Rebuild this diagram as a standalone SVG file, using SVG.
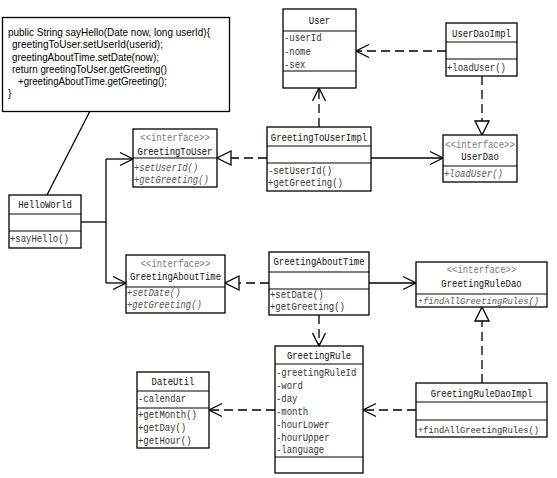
<svg xmlns="http://www.w3.org/2000/svg" width="557" height="478" viewBox="0 0 557 478">
<defs>
<style>
.box{fill:#fff;stroke:#000;stroke-width:1.3}
.sep{stroke:#000;stroke-width:1.2}
.t{font-family:"Liberation Mono","DejaVu Sans Mono",monospace;font-size:11px;fill:#111}
.sm{font-size:9.3px}
.c{text-anchor:middle}
.m{fill:#333}
.st{fill:#777}
.it{font-style:italic;fill:#555}
.n{font-family:"Liberation Sans",Arial,sans-serif;font-size:10.5px;fill:#000}
.ln{fill:none;stroke:#000;stroke-width:1.3}
.ds{stroke-dasharray:9,5}
.oa{marker-end:url(#open)}
.ta{marker-end:url(#tri)}
</style>
<marker id="open" markerUnits="userSpaceOnUse" markerWidth="16" markerHeight="14" refX="13" refY="6.5" orient="auto" overflow="visible">
<path d="M0,0 L13,6.5 L0,13" fill="none" stroke="#000" stroke-width="1.3" stroke-dasharray="none"/>
</marker>
<marker id="tri" markerUnits="userSpaceOnUse" markerWidth="16" markerHeight="16" refX="14" refY="7" orient="auto" overflow="visible">
<path d="M0,0 L14,7 L0,14 Z" fill="#fff" stroke="#000" stroke-width="1.3" stroke-dasharray="none"/>
</marker>
</defs>
<rect width="557" height="478" fill="#fff"/>

<g id="connectors">
<path class="ln" d="M90,111 L47,195"/>
<path class="ln" d="M81,222 H106"/>
<path class="ln" d="M106,159 V283"/>
<path class="ln oa" d="M106,159 H133"/>
<path class="ln oa" d="M106,283 H126"/>
<path class="ln ds ta" d="M267,158 H217"/>
<path class="ln ds oa" d="M319,127 V88"/>
<path class="ln ds oa" d="M446,51 H356"/>
<path class="ln ds ta" d="M482,76 V135"/>
<path class="ln oa" d="M371,158 H443"/>
<path class="ln ds ta" d="M269,283 H225"/>
<path class="ln oa" d="M369,283 H416"/>
<path class="ln ds ta" d="M482,383 V307"/>
<path class="ln ds oa" d="M416,410 H363"/>
<path class="ln ds oa" d="M319,315 V346"/>
<path class="ln ds oa" d="M275,410 H209"/>
</g>

<g id="note">
<rect class="box" x="2.5" y="17.5" width="227" height="94"/>
<text class="n" x="8" y="36" textLength="202" lengthAdjust="spacingAndGlyphs">public String sayHello(Date now, long userId){</text>
<text class="n" x="12" y="48" textLength="151" lengthAdjust="spacingAndGlyphs">greetingToUser.setUserId(userid);</text>
<text class="n" x="12" y="61" textLength="147" lengthAdjust="spacingAndGlyphs">greetingAboutTime.setDate(now);</text>
<text class="n" x="12" y="73" textLength="155" lengthAdjust="spacingAndGlyphs">return greetingToUser.getGreeting()</text>
<text class="n" x="18" y="85" textLength="149" lengthAdjust="spacingAndGlyphs">+greetingAboutTime.getGreeting();</text>
<text class="n" x="8" y="97">}</text>
</g>

<g id="HelloWorld">
<rect class="box" x="9" y="195" width="72" height="53"/>
<line class="sep" x1="9" y1="214" x2="81" y2="214"/>
<line class="sep" x1="9" y1="231" x2="81" y2="231"/>
<text class="t c" x="45" y="208" textLength="53.5" lengthAdjust="spacingAndGlyphs">HelloWorld</text>
<text class="t m" x="10" y="242" textLength="58.9" lengthAdjust="spacingAndGlyphs">+sayHello()</text>
</g>

<g id="GreetingToUser">
<rect class="box" x="133" y="129" width="84" height="58"/>
<line class="sep" x1="133" y1="158" x2="217" y2="158"/>
<text class="t c st" x="175" y="141" textLength="69.6" lengthAdjust="spacingAndGlyphs">&lt;&lt;interface&gt;&gt;</text>
<text class="t c" x="175" y="155" textLength="74.9" lengthAdjust="spacingAndGlyphs">GreetingToUser</text>
<text class="t it" x="134" y="171" textLength="64.2" lengthAdjust="spacingAndGlyphs">+setUserId()</text>
<text class="t it" x="134" y="183" textLength="74.9" lengthAdjust="spacingAndGlyphs">+getGreeting()</text>
</g>

<g id="GreetingToUserImpl">
<rect class="box" x="267" y="127" width="104" height="64"/>
<line class="sep" x1="267" y1="146" x2="371" y2="146"/>
<line class="sep" x1="267" y1="163" x2="371" y2="163"/>
<text class="t c" x="319" y="141" textLength="96.3" lengthAdjust="spacingAndGlyphs">GreetingToUserImpl</text>
<text class="t m" x="268" y="174" textLength="64.2" lengthAdjust="spacingAndGlyphs">-setUserId()</text>
<text class="t m" x="268" y="186" textLength="74.9" lengthAdjust="spacingAndGlyphs">+getGreeting()</text>
</g>

<g id="User">
<rect class="box" x="283" y="9" width="73" height="79"/>
<line class="sep" x1="283" y1="31" x2="356" y2="31"/>
<line class="sep" x1="283" y1="71" x2="356" y2="71"/>
<text class="t c" x="319.5" y="24" textLength="21.4" lengthAdjust="spacingAndGlyphs">User</text>
<text class="t m" x="284" y="41" textLength="37.5" lengthAdjust="spacingAndGlyphs">-userId</text>
<text class="t m" x="284" y="55" textLength="26.8" lengthAdjust="spacingAndGlyphs">-nome</text>
<text class="t m" x="284" y="68" textLength="21.4" lengthAdjust="spacingAndGlyphs">-sex</text>
</g>

<g id="UserDaoImpl">
<rect class="box" x="446" y="23" width="71" height="53"/>
<line class="sep" x1="446" y1="42" x2="517" y2="42"/>
<line class="sep" x1="446" y1="59" x2="517" y2="59"/>
<text class="t c" x="481.5" y="37" textLength="58.9" lengthAdjust="spacingAndGlyphs">UserDaoImpl</text>
<text class="t m" x="447" y="71" textLength="58.9" lengthAdjust="spacingAndGlyphs">+loadUser()</text>
</g>

<g id="UserDao">
<rect class="box" x="443" y="135" width="74" height="47"/>
<line class="sep" x1="443" y1="166" x2="517" y2="166"/>
<text class="t c st" x="480" y="148" textLength="69.6" lengthAdjust="spacingAndGlyphs">&lt;&lt;interface&gt;&gt;</text>
<text class="t c" x="480" y="160" textLength="37.5" lengthAdjust="spacingAndGlyphs">UserDao</text>
<text class="t it" x="444" y="177" textLength="58.9" lengthAdjust="spacingAndGlyphs">+loadUser()</text>
</g>

<g id="GreetingAboutTimeInterface">
<rect class="box" x="126" y="255" width="99" height="58"/>
<line class="sep" x1="126" y1="287" x2="225" y2="287"/>
<text class="t c st" x="175.5" y="267" textLength="69.6" lengthAdjust="spacingAndGlyphs">&lt;&lt;interface&gt;&gt;</text>
<text class="t c" x="175.5" y="280" textLength="91" lengthAdjust="spacingAndGlyphs">GreetingAboutTime</text>
<text class="t it" x="127" y="296" textLength="53.5" lengthAdjust="spacingAndGlyphs">+setDate()</text>
<text class="t it" x="127" y="308" textLength="74.9" lengthAdjust="spacingAndGlyphs">+getGreeting()</text>
</g>

<g id="GreetingAboutTime">
<rect class="box" x="269" y="252" width="100" height="63"/>
<line class="sep" x1="269" y1="272" x2="369" y2="272"/>
<line class="sep" x1="269" y1="289" x2="369" y2="289"/>
<text class="t c" x="319" y="265" textLength="91" lengthAdjust="spacingAndGlyphs">GreetingAboutTime</text>
<text class="t m" x="270" y="298" textLength="53.5" lengthAdjust="spacingAndGlyphs">+setDate()</text>
<text class="t m" x="270" y="310" textLength="74.9" lengthAdjust="spacingAndGlyphs">+getGreeting()</text>
</g>

<g id="GreetingRuleDao">
<rect class="box" x="416" y="262" width="131" height="45"/>
<line class="sep" x1="416" y1="294" x2="547" y2="294"/>
<text class="t c st" x="481.5" y="273" textLength="69.6" lengthAdjust="spacingAndGlyphs">&lt;&lt;interface&gt;&gt;</text>
<text class="t c" x="481.5" y="287" textLength="80.3" lengthAdjust="spacingAndGlyphs">GreetingRuleDao</text>
<text class="t it sm" x="418" y="304" textLength="121" lengthAdjust="spacingAndGlyphs">+findAllGreetingRules()</text>
</g>

<g id="GreetingRuleDaoImpl">
<rect class="box" x="416" y="383" width="131" height="54"/>
<line class="sep" x1="416" y1="402" x2="547" y2="402"/>
<line class="sep" x1="416" y1="420" x2="547" y2="420"/>
<text class="t c" x="481.5" y="397" textLength="101.7" lengthAdjust="spacingAndGlyphs">GreetingRuleDaoImpl</text>
<text class="t m sm" x="418" y="433" textLength="121" lengthAdjust="spacingAndGlyphs">+findAllGreetingRules()</text>
</g>

<g id="GreetingRule">
<rect class="box" x="275" y="346" width="88" height="127"/>
<line class="sep" x1="275" y1="364" x2="363" y2="364"/>
<line class="sep" x1="275" y1="457" x2="363" y2="457"/>
<text class="t c" x="319" y="359" textLength="64.2" lengthAdjust="spacingAndGlyphs">GreetingRule</text>
<text class="t m" x="276" y="376" textLength="80.3" lengthAdjust="spacingAndGlyphs">-greetingRuleId</text>
<text class="t m" x="276" y="389" textLength="26.8" lengthAdjust="spacingAndGlyphs">-word</text>
<text class="t m" x="276" y="402" textLength="21.4" lengthAdjust="spacingAndGlyphs">-day</text>
<text class="t m" x="276" y="415" textLength="32.1" lengthAdjust="spacingAndGlyphs">-month</text>
<text class="t m" x="276" y="428" textLength="53.5" lengthAdjust="spacingAndGlyphs">-hourLower</text>
<text class="t m" x="276" y="441" textLength="53.5" lengthAdjust="spacingAndGlyphs">-hourUpper</text>
<text class="t m" x="276" y="453" textLength="48.2" lengthAdjust="spacingAndGlyphs">-language</text>
</g>

<g id="DateUtil">
<rect class="box" x="137" y="372" width="72" height="76"/>
<line class="sep" x1="137" y1="391" x2="209" y2="391"/>
<line class="sep" x1="137" y1="408" x2="209" y2="408"/>
<text class="t c" x="173" y="385" textLength="42.8" lengthAdjust="spacingAndGlyphs">DateUtil</text>
<text class="t m" x="138" y="402" textLength="48.2" lengthAdjust="spacingAndGlyphs">-calendar</text>
<text class="t m" x="138" y="418" textLength="58.9" lengthAdjust="spacingAndGlyphs">+getMonth()</text>
<text class="t m" x="138" y="431" textLength="48.2" lengthAdjust="spacingAndGlyphs">+getDay()</text>
<text class="t m" x="138" y="444" textLength="53.5" lengthAdjust="spacingAndGlyphs">+getHour()</text>
</g>
</svg>
